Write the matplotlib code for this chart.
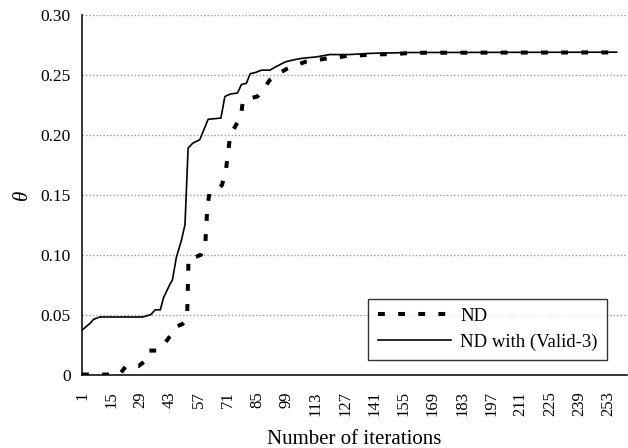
import matplotlib
matplotlib.use("Agg")
import matplotlib.pyplot as plt

plt.rcParams['font.family'] = ['Liberation Serif', 'DejaVu Serif']

# ND (dashed)
nd_iter = [1, 19, 22, 28, 31, 33, 37, 41, 44, 46, 49, 51.3, 52, 54, 58, 60, 61, 62,
           66, 68, 69, 70, 71, 72, 73, 75, 77, 78, 80, 85, 87, 91, 94, 99, 102,
           108, 112, 119, 122, 128, 132, 139, 151, 160, 257]
nd_val = [0.0, 0.0, 0.007, 0.007, 0.011, 0.020, 0.020, 0.027, 0.034, 0.040, 0.042,
          0.046, 0.097, 0.097, 0.100, 0.108, 0.140, 0.151, 0.155, 0.158, 0.165,
          0.172, 0.186, 0.200, 0.203, 0.209, 0.214, 0.228, 0.230, 0.232, 0.236,
          0.246, 0.250, 0.255, 0.257, 0.261, 0.262, 0.264, 0.264, 0.266, 0.266,
          0.267, 0.2675, 0.2685, 0.2688]

# ND with (Valid-3) (solid)
valid_iter = [1, 5, 6.5, 9.5, 30, 34, 36, 38.5, 40, 43, 44.3, 46.2, 48.6, 50.3,
              51.8, 54, 57.4, 61.4, 67.5, 69.4, 72, 75.5, 77.3, 79.7, 81.5, 84,
              87, 91, 94, 98.5, 103.5, 107, 113, 119.5, 129, 139, 158, 257]
valid_val = [0.037, 0.043, 0.046, 0.048, 0.048, 0.050, 0.054, 0.054, 0.064, 0.075,
             0.079, 0.098, 0.112, 0.125, 0.189, 0.193, 0.196, 0.213, 0.214, 0.232,
             0.234, 0.235, 0.242, 0.243, 0.251, 0.252, 0.254, 0.254, 0.257, 0.261,
             0.263, 0.264, 0.265, 0.267, 0.267, 0.268, 0.2687, 0.2690]

x_ticks = list(range(1, 254, 14))
y_ticks = [0, 0.05, 0.10, 0.15, 0.20, 0.25, 0.30]
y_labels = ['0', '0.05', '0.10', '0.15', '0.20', '0.25', '0.30']

fig = plt.figure(figsize=(6.28, 4.48), dpi=100)
ax = fig.add_axes([0.1306, 0.164, 0.868, 0.8025])

ax.plot(nd_iter, nd_val, color='black', lw=2.9, dashes=(1.7, 3.3),
        dash_capstyle='butt', label='ND')
ax.plot(valid_iter, valid_val, color='black', lw=1.2, label='ND with (Valid-3)')

ax.set_xlim(1, 262)
ax.set_ylim(0, 0.30)
ax.set_xticks(x_ticks)
ax.set_xticklabels([str(t) for t in x_ticks], rotation=90, fontsize=12)
ax.set_yticks(y_ticks)
ax.set_yticklabels(y_labels, fontsize=12.5)
ax.tick_params(axis='both', length=0)
ax.tick_params(axis='x', pad=12)
ax.tick_params(axis='y', pad=8)

ax.yaxis.grid(True, color='#9a9a9a', lw=1.0, linestyle=(0, (1, 1.5)))
ax.set_axisbelow(True)
for s in ['top', 'right']:
    ax.spines[s].set_visible(False)
for s in ['left', 'bottom']:
    ax.spines[s].set_linewidth(1.1)

ax.set_xlabel('Number of iterations', fontsize=15, labelpad=10)
ax.set_ylabel('θ', fontsize=15, style='italic', rotation=90, labelpad=6)

leg = ax.legend(loc='lower right', bbox_to_anchor=(0.963, 0.04), fontsize=13.5,
                frameon=True, fancybox=False, handlelength=3.9, borderpad=0.5,
                labelspacing=0.45, handletextpad=0.5, borderaxespad=0)
leg.get_frame().set_edgecolor('black')
leg.get_frame().set_linewidth(1.0)

fig.savefig('out.png', dpi=100)
